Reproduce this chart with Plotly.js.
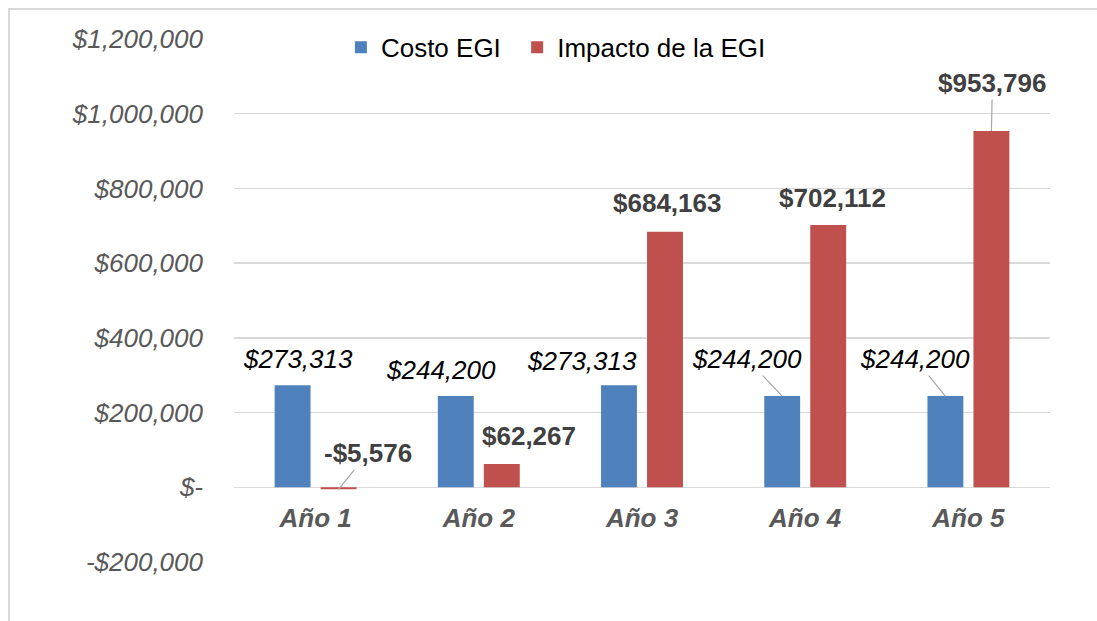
<!DOCTYPE html>
<html>
<head>
<meta charset="utf-8">
<script src="https://cdn.plot.ly/plotly-3.0.1.min.js"></script>
<style>
  html, body { margin: 0; padding: 0; background: #ffffff; }
  #chart { width: 1097px; height: 621px; position: absolute; left: 0; top: 0; }
  #frame { position: absolute; left: 8px; top: 8px; width: 1200px; height: 700px;
           border-top: 2px solid #d9d9d9; border-left: 2px solid #d9d9d9; pointer-events: none; }
</style>
</head>
<body>
<div id="chart"></div>
<div id="frame"></div>
<script>
// ---- data ----
const categories = ["Año 1", "Año 2", "Año 3", "Año 4", "Año 5"];
const costoEGI = [273313, 244200, 273313, 244200, 244200];
const impactoEGI = [-5576, 62267, 684163, 702112, 953796];
const seriesNames = ["Costo EGI", "Impacto de la EGI"];
const yTickVals = [-200000, 0, 200000, 400000, 600000, 800000, 1000000, 1200000];
const yTickText = ["-$200,000", "$-", "$200,000", "$400,000", "$600,000", "$800,000", "$1,000,000", "$1,200,000"];
const yRange = [-200000, 1200000];

// ---- label placement (pixel offsets from bar tops, Excel-like) ----
const costoOffsets = [[5, -26], [-15, -26], [-37, -24], [-35, -37], [-30, -37]];
const costoLeader = [false, false, false, true, true];
const impactoOffsets = [[29, -36], [27, -28], [2, -29], [4, -27], [1, -48]];
const impactoLeader = [true, false, false, false, true];

const BLUE = "#4f81bd", RED = "#c0504d";
const FONT = "Liberation Sans, Arial, sans-serif";
const bargap = 0.436;
const slot = (1 - bargap) / 2;
// x axis crosses the value axis at zero (Excel style)
const zeroFrac = (0 - yRange[0]) / (yRange[1] - yRange[0]);

function fmt(v) {
  const s = "$" + Math.abs(v).toLocaleString("en-US");
  return v < 0 ? "-" + s : s;
}

const traces = [
  { type: "bar", name: seriesNames[0], x: categories, y: costoEGI,
    marker: { color: BLUE }, hoverinfo: "skip", legend: "legend" },
  { type: "bar", name: seriesNames[1], x: categories, y: impactoEGI,
    marker: { color: RED }, hoverinfo: "skip", legend: "legend2" }
];

const annotations = [];
categories.forEach((c, i) => {
  annotations.push({
    x: i - slot / 2, y: costoEGI[i], xref: "x", yref: "y",
    text: fmt(costoEGI[i]), showarrow: true,
    ax: costoOffsets[i][0], ay: costoOffsets[i][1],
    arrowhead: 0, arrowwidth: 1.2,
    arrowcolor: costoLeader[i] ? "#a6a6a6" : "rgba(0,0,0,0)",
    font: { family: FONT, size: 26, color: "#000000", style: "italic" }
  });
  annotations.push({
    x: i + slot / 2, y: impactoEGI[i], xref: "x", yref: "y",
    text: fmt(impactoEGI[i]), showarrow: true,
    ax: impactoOffsets[i][0], ay: impactoOffsets[i][1],
    arrowhead: 0, arrowwidth: 1.2,
    arrowcolor: impactoLeader[i] ? "#a6a6a6" : "rgba(0,0,0,0)",
    font: { family: FONT, size: 26, color: "#404040", weight: "bold" }
  });
});

const legendStyle = {
  orientation: "h", xanchor: "left", y: 0.984, yanchor: "middle",
  bgcolor: "rgba(0,0,0,0)",
  font: { family: FONT, size: 26, color: "#000000" }
};

const layout = {
  width: 1097, height: 621,
  margin: { l: 234, r: 47, t: 39, b: 59 },
  paper_bgcolor: "rgba(0,0,0,0)",
  plot_bgcolor: "rgba(0,0,0,0)",
  barmode: "group",
  bargap: bargap,
  bargroupgap: 0.22,
  showlegend: true,
  legend: Object.assign({}, legendStyle, { x: 0.131 }),
  legend2: Object.assign({}, legendStyle, { x: 0.347 }),
  xaxis: {
    type: "category",
    anchor: "free", position: zeroFrac,
    showgrid: false, zeroline: false, showline: false,
    ticks: "", ticklabelstandoff: 13,
    tickfont: { family: FONT, size: 26, color: "#595959", style: "italic", weight: "bold" }
  },
  yaxis: {
    range: yRange,
    tickvals: yTickVals, ticktext: yTickText,
    showgrid: true, gridcolor: "#d9d9d9", gridwidth: 1.5,
    zeroline: true, zerolinecolor: "#d9d9d9", zerolinewidth: 1.5,
    showline: false, ticks: "", ticklabelstandoff: 30,
    tickfont: { family: FONT, size: 26, color: "#595959", style: "italic" }
  },
  annotations: annotations
};

Plotly.newPlot("chart", traces, layout, { displayModeBar: false, staticPlot: true });
</script>
</body>
</html>
